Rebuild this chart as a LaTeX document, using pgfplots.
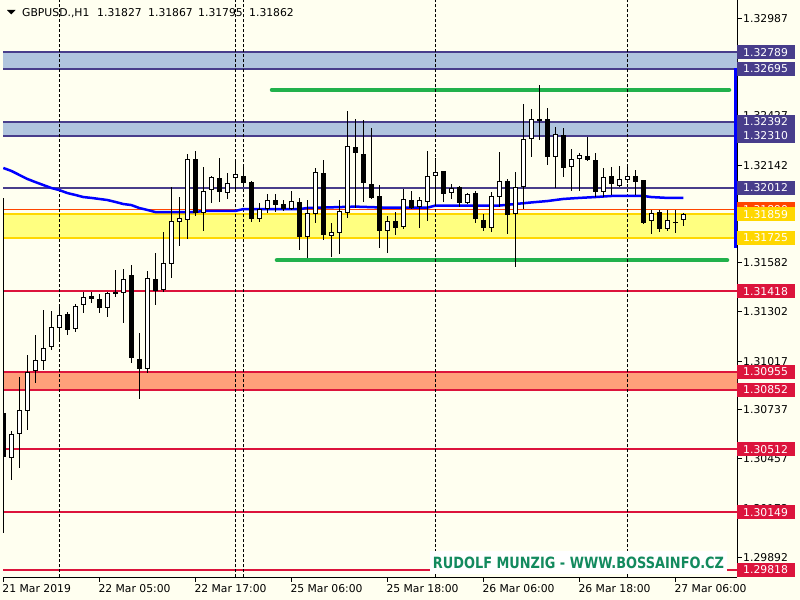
\documentclass[border=0pt]{standalone}
\usepackage{pgfplots}
\pgfplotsset{compat=1.18}
\usepackage{pgfplotstable}
\usepackage{fontspec}
\setmainfont{DejaVu Sans}
\usepackage{graphicx}

\definecolor{bg}{HTML}{FFFFF0}
\definecolor{lsb}{HTML}{B0C4DE}
\definecolor{dsb}{HTML}{483D8B}
\definecolor{gold}{HTML}{FFD700}
\definecolor{lyel}{HTML}{FFFF80}
\definecolor{salmon}{HTML}{FFA07A}
\definecolor{crim}{HTML}{DC143C}
\definecolor{ored}{HTML}{FF4500}
\definecolor{mablue}{HTML}{0000FF}
\definecolor{grn}{HTML}{22B14C}
\definecolor{wm}{HTML}{138A5E}

\newcommand\lblfont{\fontsize{10.8bp}{12bp}\selectfont}

\pgfplotstableread{
i O H L C
0 1.30719 1.31954 1.30030 1.30466
1 1.30461 1.30616 1.30334 1.30598
2 1.30598 1.30926 1.30403 1.30736
3 1.30730 1.31052 1.30621 1.30954
4 1.30960 1.31167 1.30891 1.31023
5 1.31018 1.31310 1.30966 1.31092
6 1.31098 1.31305 1.31081 1.31213
7 1.31207 1.31328 1.31138 1.31282
8 1.31287 1.31299 1.31167 1.31196
9 1.31201 1.31345 1.31184 1.31333
10 1.31339 1.31414 1.31293 1.31385
11 1.31391 1.31414 1.31351 1.31374
12 1.31374 1.31402 1.31293 1.31322
13 1.31322 1.31414 1.31270 1.31408
14 1.31414 1.31540 1.31385 1.31402
15 1.31408 1.31546 1.31236 1.31488
16 1.31511 1.31569 1.31006 1.31035
17 1.31029 1.31178 1.30799 1.30972
18 1.30972 1.31534 1.30949 1.31494
19 1.31488 1.31638 1.31339 1.31419
20 1.31425 1.31758 1.31414 1.31580
21 1.31575 1.32017 1.31494 1.31821
22 1.31816 1.31959 1.31678 1.31839
23 1.31827 1.32206 1.31718 1.32177
24 1.32177 1.32223 1.31850 1.31867
25 1.31867 1.32132 1.31764 1.31994
26 1.31999 1.32080 1.31925 1.32074
27 1.32068 1.32183 1.31931 1.31988
28 1.31982 1.32097 1.31948 1.32040
29 1.32068 1.32160 1.31988 1.32091
30 1.32080 1.32149 1.32017 1.32040
31 1.32045 1.32051 1.31816 1.31833
32 1.31833 1.31925 1.31816 1.31890
33 1.31890 1.31976 1.31867 1.31942
34 1.31942 1.31976 1.31873 1.31913
35 1.31919 1.31942 1.31879 1.31890
36 1.31890 1.31994 1.31885 1.31936
37 1.31931 1.31954 1.31655 1.31730
38 1.31730 1.31942 1.31609 1.31867
39 1.31862 1.32126 1.31810 1.32103
40 1.32097 1.32172 1.31712 1.31741
41 1.31735 1.31810 1.31615 1.31758
42 1.31753 1.31942 1.31632 1.31879
43 1.31867 1.32453 1.31839 1.32252
44 1.32246 1.32407 1.31896 1.32212
45 1.32206 1.32401 1.31931 1.32040
46 1.32034 1.32355 1.31948 1.31954
47 1.31965 1.32028 1.31666 1.31764
48 1.31764 1.31850 1.31638 1.31821
49 1.31821 1.31873 1.31741 1.31781
50 1.31787 1.32005 1.31776 1.31948
51 1.31942 1.31994 1.31890 1.31896
52 1.31902 1.31959 1.31781 1.31942
53 1.31931 1.32223 1.31821 1.32080
54 1.32080 1.32183 1.31908 1.32103
55 1.32109 1.32112 1.31931 1.31976
56 1.31982 1.32034 1.31948 1.32011
57 1.32017 1.32022 1.31902 1.31925
58 1.31925 1.31982 1.31919 1.31976
59 1.31982 1.31994 1.31810 1.31833
60 1.31827 1.31862 1.31764 1.31781
61 1.31781 1.31988 1.31758 1.31965
62 1.31959 1.32218 1.31902 1.32051
63 1.32051 1.32063 1.31747 1.31856
64 1.31862 1.32103 1.31557 1.32017
65 1.32017 1.32493 1.31890 1.32292
66 1.32292 1.32465 1.32189 1.32407
67 1.32407 1.32602 1.32287 1.32401
68 1.32407 1.32470 1.32143 1.32189
69 1.32189 1.32361 1.32011 1.32321
70 1.32315 1.32355 1.32074 1.32126
71 1.32132 1.32235 1.31994 1.32177
72 1.32177 1.32212 1.31994 1.32200
73 1.32195 1.32304 1.32166 1.32172
74 1.32172 1.32212 1.31959 1.31988
75 1.31988 1.32126 1.31959 1.32074
76 1.32080 1.32132 1.31971 1.32034
77 1.32022 1.32137 1.32017 1.32063
78 1.32057 1.32143 1.32040 1.32080
79 1.32080 1.32114 1.31971 1.32045
80 1.32057 1.32060 1.31805 1.31810
81 1.31821 1.31885 1.31747 1.31867
82 1.31873 1.31885 1.31758 1.31776
83 1.31776 1.31885 1.31764 1.31827
84 1.31819 1.31885 1.31753 1.31813
85 1.31827 1.31867 1.31795 1.31862
}\candles

\pgfplotstableread{
i ma
0 1.32126
1 1.32109
2 1.32086
3 1.32063
4 1.32045
5 1.32028
6 1.32011
7 1.31999
8 1.31982
9 1.31971
10 1.31959
11 1.31954
12 1.31948
13 1.31942
14 1.31931
15 1.31919
16 1.31913
17 1.31896
18 1.31885
19 1.31873
24 1.31873
25 1.31879
29 1.31879
30 1.31890
37 1.31890
38 1.31896
44 1.31904
48 1.31898
53 1.31898
54 1.31910
62 1.31910
64 1.31919
66 1.31928
68 1.31936
70 1.31948
72 1.31954
74 1.31959
76 1.31965
80 1.31965
81 1.31959
83 1.31954
85 1.31954
}\matable

\begin{document}
\begin{tikzpicture}[x=1bp,y=1bp]
\useasboundingbox (0,0) rectangle (800,-600);
\fill[bg] (0,0) rectangle (800,-600);
\begin{axis}[
  at={(3bp,0bp)}, anchor=north west,
  scale only axis, width=734bp, height=577bp,
  xmin=-0.0375, xmax=91.7125,
  ymin=1.297773, ymax=1.330904,
  axis x line*=bottom, axis y line*=right,
  axis line style={-, black, line width=1bp},
  tick align=outside,
  major tick length=4.5bp,
  tick style={black, line width=1bp},
  xtick={0,12,24,36,48,60,72,84},
  xticklabels={21 Mar 2019,22 Mar 05:00,22 Mar 17:00,25 Mar 06:00,25 Mar 18:00,26 Mar 06:00,26 Mar 18:00,27 Mar 06:00},
  ytick={1.32987,1.32707,1.32427,1.32142,1.31862,1.31582,1.31302,1.31017,1.30737,1.30457,1.30172,1.29892},
  yticklabels={1.32987,1.32707,1.32427,1.32142,1.31862,1.31582,1.31302,1.31017,1.30737,1.30457,1.30172,1.29892},
  xticklabel style={anchor=north west, inner sep=0pt, font=\lblfont, text height=8bp, text depth=0pt, yshift=-2.5bp, xshift=-1bp},
  yticklabel style={anchor=west, inner sep=0pt, font=\lblfont, text height=8bp, text depth=0pt, xshift=1.5bp},
  scaled y ticks=false,
]
% bands
\addplot[draw=none, fill=lsb] coordinates {(-1,1.32695) (93,1.32695) (93,1.32789) (-1,1.32789)} -- cycle;
\addplot[draw=none, fill=lsb] coordinates {(-1,1.32310) (93,1.32310) (93,1.32392) (-1,1.32392)} -- cycle;
\addplot[draw=none, fill=lyel] coordinates {(-1,1.31725) (93,1.31725) (93,1.31859) (-1,1.31859)} -- cycle;
\addplot[draw=none, fill=salmon] coordinates {(-1,1.30852) (93,1.30852) (93,1.30955) (-1,1.30955)} -- cycle;
% level lines
\addplot[dsb, line width=2bp] coordinates {(-1,1.32789) (93,1.32789)};
\addplot[dsb, line width=2bp] coordinates {(-1,1.32695) (93,1.32695)};
\addplot[dsb, line width=2bp] coordinates {(-1,1.32392) (93,1.32392)};
\addplot[dsb, line width=2bp] coordinates {(-1,1.32310) (93,1.32310)};
\addplot[dsb, line width=2bp] coordinates {(-1,1.32012) (93,1.32012)};
\addplot[gold, line width=2bp] coordinates {(-1,1.31859) (93,1.31859)};
\addplot[gold, line width=2bp] coordinates {(-1,1.31725) (93,1.31725)};
\addplot[crim, line width=2bp] coordinates {(-1,1.31418) (93,1.31418)};
\addplot[crim, line width=2bp] coordinates {(-1,1.30955) (93,1.30955)};
\addplot[crim, line width=2bp] coordinates {(-1,1.30852) (93,1.30852)};
\addplot[crim, line width=2bp] coordinates {(-1,1.30512) (93,1.30512)};
\addplot[crim, line width=2bp] coordinates {(-1,1.30149) (93,1.30149)};
\addplot[crim, line width=2bp] coordinates {(-1,1.29818) (93,1.29818)};
\addplot[ored, line width=0.8bp] coordinates {(-1,1.31890) (93,1.31890)};
% green trend range lines
\addplot[grn, line width=4.5bp, line cap=round] coordinates {(33.59,1.32574) (90.71,1.32574)};
\addplot[grn, line width=4.5bp, line cap=round] coordinates {(34.21,1.31597) (90.46,1.31597)};
% period separators
\addplot[black, line width=0.8bp, dash pattern=on 3bp off 2bp] coordinates {(7,1.29) (7,1.34)};
\addplot[black, line width=0.8bp, dash pattern=on 3bp off 2bp] coordinates {(29,1.29) (29,1.34)};
\addplot[black, line width=0.8bp, dash pattern=on 3bp off 2bp] coordinates {(30,1.29) (30,1.34)};
\addplot[black, line width=0.8bp, dash pattern=on 3bp off 2bp] coordinates {(54,1.29) (54,1.34)};
\addplot[black, line width=0.8bp, dash pattern=on 3bp off 2bp] coordinates {(78,1.29) (78,1.34)};
% moving average
\addplot[mablue, line width=2.5bp] table[x=i, y=ma] {\matable};
% wicks
\addplot[draw=none, mark=none, error bars/.cd, y dir=both, y explicit, error mark=none,
  error bar style={draw=black, line width=1bp}]
  table[x=i, y expr={(\thisrow{H}+\thisrow{L})/2}, y error expr={(\thisrow{H}-\thisrow{L})/2}] {\candles};
% bodies
\addplot[draw=none, mark=none, error bars/.cd, y dir=both, y explicit, error mark=none,
  error bar style={draw=black, line width=4.5bp}]
  table[x=i, y expr={(\thisrow{O}+\thisrow{C})/2}, y error expr={abs(\thisrow{C}-\thisrow{O})/2}] {\candles};
\addplot[draw=none, mark=none, unbounded coords=discard, error bars/.cd, y dir=both, y explicit, error mark=none,
  error bar style={draw=white, line width=2.5bp}]
  table[x=i, y expr={\thisrow{C}>\thisrow{O} ? (\thisrow{O}+\thisrow{C})/2 : nan}, y error expr={(\thisrow{C}-\thisrow{O})/2-0.0000574}] {\candles};
% range bar at right
\addplot[mablue, line width=3.5bp] coordinates {(91.55,1.32700) (91.55,1.31666)};
% label anchors
\coordinate (a1) at (axis cs:91.7125,1.32789);
\coordinate (a2) at (axis cs:91.7125,1.32695);
\coordinate (a3) at (axis cs:91.7125,1.32392);
\coordinate (a4) at (axis cs:91.7125,1.32310);
\coordinate (a5) at (axis cs:91.7125,1.32012);
\coordinate (a6) at (axis cs:91.7125,1.31890);
\coordinate (a7) at (axis cs:91.7125,1.31862);
\coordinate (a8) at (axis cs:91.7125,1.31859);
\coordinate (a9) at (axis cs:91.7125,1.31725);
\coordinate (b1) at (axis cs:91.7125,1.31418);
\coordinate (b2) at (axis cs:91.7125,1.30955);
\coordinate (b3) at (axis cs:91.7125,1.30852);
\coordinate (b4) at (axis cs:91.7125,1.30512);
\coordinate (b5) at (axis cs:91.7125,1.30149);
\coordinate (b6) at (axis cs:91.7125,1.29818);
\end{axis}
\tikzset{lab/.style={anchor=west, text=white, inner xsep=6bp, inner ysep=3bp, text height=8bp, text depth=0pt, text width=46bp, align=left, font=\lblfont}}
\node[lab, fill=dsb] at (a1) {1.32789};
\node[lab, fill=dsb] at (a2) {1.32695};
\node[lab, fill=dsb] at (a3) {1.32392};
\node[lab, fill=dsb] at (a4) {1.32310};
\node[lab, fill=dsb] at (a5) {1.32012};
\node[lab, fill=ored] at (a6) {1.31890};
\node[lab, fill=black] at (a7) {1.31862};
\node[lab, fill=gold] at (a8) {1.31859};
\node[lab, fill=gold] at (a9) {1.31725};
\node[lab, fill=crim] at (b1) {1.31418};
\node[lab, fill=crim] at (b2) {1.30955};
\node[lab, fill=crim] at (b3) {1.30852};
\node[lab, fill=crim] at (b4) {1.30512};
\node[lab, fill=crim] at (b5) {1.30149};
\node[lab, fill=crim] at (b6) {1.29818};
% title
\fill[black] (7,-10) -- (15.5,-10) -- (11.25,-14.5) -- cycle;
\node[anchor=base west, inner sep=0pt, font=\lblfont] at (22,-16.5) {GBPUSD.,H1};
\node[anchor=base west, inner sep=0pt, font=\lblfont] at (97,-16.5) {1.31827};
\node[anchor=base west, inner sep=0pt, font=\lblfont] at (148,-16.5) {1.31867};
\node[anchor=base west, inner sep=0pt, font=\lblfont] at (198,-16.5) {1.31795};
\node[anchor=base west, inner sep=0pt, font=\lblfont] at (249,-16.5) {1.31862};
% watermark
\fill[white] (430,-551) rectangle (727,-574);
\node[inner sep=0pt, text=wm] at (578.5,-562.5) {\resizebox{291bp}{11.5bp}{\bfseries RUDOLF MUNZIG - WWW.BOSSAINFO.CZ}};
\end{tikzpicture}
\end{document}
